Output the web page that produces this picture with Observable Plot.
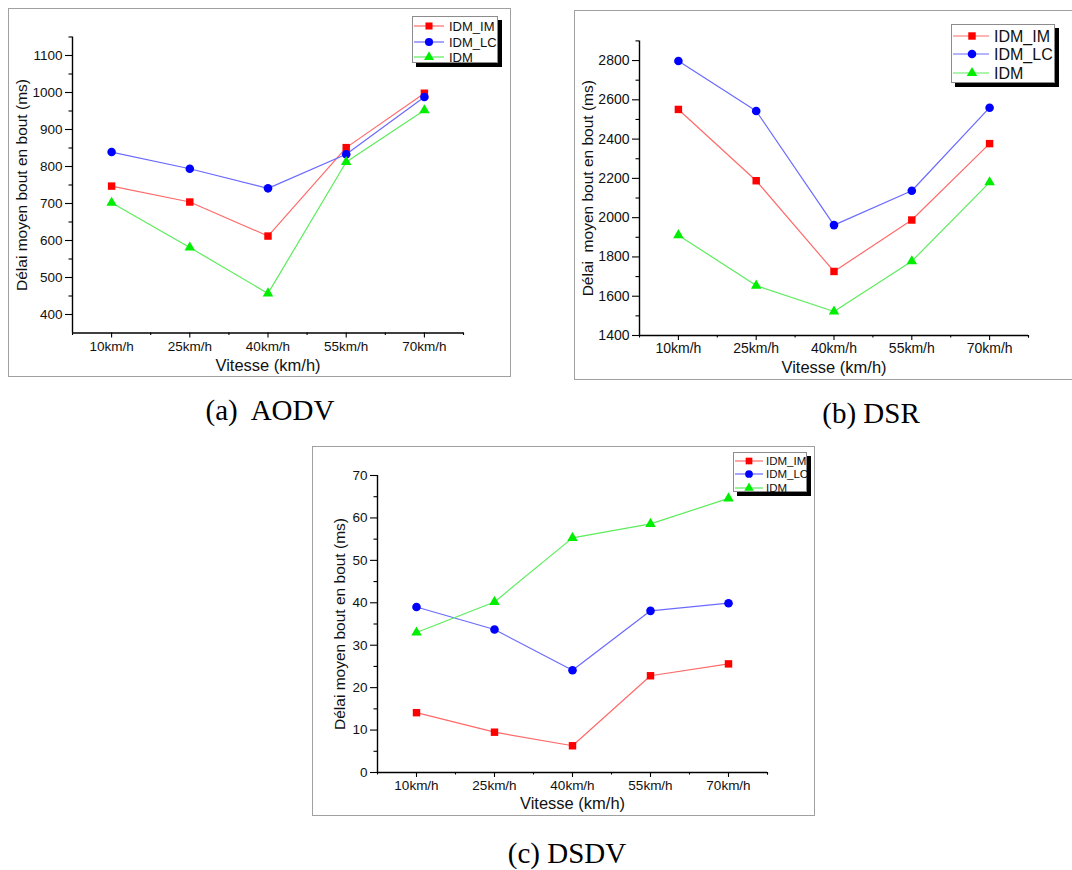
<!DOCTYPE html>
<html><head><meta charset="utf-8">
<script src="https://cdn.jsdelivr.net/npm/d3@7"></script>
<script src="https://cdn.jsdelivr.net/npm/@observablehq/plot@0.6"></script>
<style>
body{margin:0;background:#fff;}
#page{position:relative;width:1072px;height:870px;overflow:hidden;font-family:"Liberation Sans",Arial,sans-serif;background:#fff;}
.frame{position:absolute;border:1.5px solid #a0a0a0;box-sizing:border-box;}
.plot{position:absolute;}
.legend{position:absolute;background:#fff;border:1px solid #8c8c8c;box-shadow:4px 4px 0 #000;box-sizing:border-box;}
.legend svg{position:absolute;left:0;top:0;overflow:visible;}
.caption{position:absolute;font-family:"Liberation Serif","Times New Roman",serif;font-size:29px;transform:translate(-50%,-50%);white-space:pre;color:#000;line-height:1;}
</style></head><body><div id="page"></div>
<script>
// ---- data ----
const categories = ["10km/h", "25km/h", "40km/h", "55km/h", "70km/h"];
const seriesNames = ["IDM_IM", "IDM_LC", "IDM"];
const xTitle = "Vitesse (km/h)";
const yTitleA = "Délai moyen bout en bout (ms)";
const yTitleB = "Délai  moyen bout en bout (ms)";
const yTitleC = "Délai moyen bout en bout (ms)";
const captions = ["(a)  AODV", "(b) DSR", "(c) DSDV"];

// (a) AODV
const aodvIM  = [747, 704, 612, 851, 998];
const aodvLC  = [839, 794, 741, 833, 988];
const aodvIDM = [702, 581, 457, 812, 952];
const aodvTicks = [400, 500, 600, 700, 800, 900, 1000, 1100];
const aodvMinor = [450, 550, 650, 750, 850, 950, 1050, 1150];
// (b) DSR
const dsrIM  = [2551, 2188, 1726, 1988, 2377];
const dsrLC  = [2798, 2543, 1962, 2137, 2560];
const dsrIDM = [1911, 1654, 1522, 1778, 2180];
const dsrTicks = [1400, 1600, 1800, 2000, 2200, 2400, 2600, 2800];
const dsrMinor = [1500, 1700, 1900, 2100, 2300, 2500, 2700, 2900];
// (c) DSDV
const dsdvIM  = [14.1, 9.5, 6.3, 22.8, 25.6];
const dsdvLC  = [39.0, 33.7, 24.1, 38.1, 39.9];
const dsdvIDM = [33.0, 40.2, 55.3, 58.6, 64.6];
const dsdvTicks = [0, 10, 20, 30, 40, 50, 60, 70];
const dsdvMinor = [5, 15, 25, 35, 45, 55, 65];

// ---- styles ----
const lineColors = ["#ff6a6a", "#6a6aff", "#5cec5c"];
const markColors = ["#ff0000", "#0000ff", "#00ee00"];
const plotSymbols = ["square", "circle", "triangle"];
const d3Symbols = [d3.symbolSquare, d3.symbolCircle, d3.symbolTriangle];
const symbolR = [4.2, 4.3, 3.9];

const page = document.getElementById("page");

function rows(values) {
  return categories.map((c, i) => ({i, cat: c, v: values[i]}));
}

function panel(cfg) {
  const fr = document.createElement("div");
  fr.className = "frame";
  Object.assign(fr.style, {left: cfg.left + "px", top: cfg.top + "px", width: cfg.width + "px", height: cfg.height + "px"});
  page.appendChild(fr);

  const seriesMarks = [];
  cfg.series.forEach((vals, k) => {
    seriesMarks.push(Plot.line(rows(vals), {x: "i", y: "v", stroke: lineColors[k], strokeWidth: 1.2}));
  });
  cfg.series.forEach((vals, k) => {
    seriesMarks.push(Plot.dot(rows(vals), {x: "i", y: "v", symbol: plotSymbols[k], fill: markColors[k], stroke: "none", r: symbolR[k] * cfg.ms}));
  });
  const minorX = d3.range(-0.5, categories.length, 1).concat([categories.length - 0.5]);

  const chart = Plot.plot({
    width: cfg.width, height: cfg.height,
    marginLeft: cfg.mL, marginRight: cfg.mR, marginTop: cfg.mT, marginBottom: cfg.mB,
    x: {type: "linear", domain: [-0.5, categories.length - 0.5]},
    y: {type: "linear", domain: cfg.yDomain},
    style: {fontFamily: '"Liberation Sans", Arial, sans-serif', fontSize: "13px", color: "#000", background: "transparent", overflow: "visible"},
    marks: [
      Plot.axisY(cfg.major, {anchor: "left", tickSize: 7, tickPadding: 3, tickFormat: d => String(d), fontSize: cfg.tickFont, fill: "#111", label: null, strokeWidth: 1.1}),
      Plot.axisY(cfg.minor, {anchor: "left", tickSize: 3.5, tickFormat: () => "", label: null, strokeWidth: 1.1}),
      Plot.axisX(d3.range(categories.length), {anchor: "bottom", tickSize: 5, tickPadding: 3, tickFormat: i => categories[i], fontSize: cfg.tickFont, fill: "#111", label: null, strokeWidth: 1.1}),
      Plot.axisX(minorX, {anchor: "bottom", tickSize: 2.5, tickFormat: () => "", label: null, strokeWidth: 1.1}),
      Plot.ruleX([-0.5], {stroke: "#000", strokeWidth: 1.4}),
      Plot.ruleY([cfg.yDomain[0]], {stroke: "#000", strokeWidth: 1.4}),
      ...seriesMarks,
      Plot.text([cfg.yTitle], {frameAnchor: "left", textAnchor: "middle", lineAnchor: "middle", rotate: -90, dx: cfg.yTitleDx, fontSize: 15.5, fill: "#111"}),
      Plot.text([xTitle], {frameAnchor: "bottom", textAnchor: "middle", lineAnchor: "middle", dy: cfg.xTitleDy, fontSize: 16.5, fill: "#111"})
    ]
  });
  chart.classList.add("plot");
  Object.assign(chart.style, {position: "absolute", left: cfg.left + "px", top: cfg.top + "px"});
  chart.querySelectorAll("text").forEach(t => t.style.whiteSpace = "pre");
  page.appendChild(chart);

  legend(cfg.legend);
}

function legend(L) {
  const div = document.createElement("div");
  div.className = "legend";
  Object.assign(div.style, {left: L.left + "px", top: L.top + "px", width: L.w + "px", height: L.h + "px"});
  const svg = d3.select(div).append("svg").attr("width", L.w).attr("height", L.h);
  seriesNames.forEach((name, k) => {
    const y = L.rows[k];
    svg.append("line").attr("x1", L.x0).attr("x2", L.x1).attr("y1", y).attr("y2", y)
      .attr("stroke", lineColors[k]).attr("stroke-width", 1.2);
    svg.append("path").attr("d", d3.symbol(d3Symbols[k], Math.PI * (symbolR[k] * L.s) ** 2)())
      .attr("transform", `translate(${L.xm},${y})`).attr("fill", markColors[k]);
    svg.append("text").attr("x", L.xt).attr("y", y).attr("dy", "0.36em")
      .attr("font-size", L.font).attr("fill", "#111")
      .attr("font-family", '"Liberation Sans", Arial, sans-serif').text(name);
  });
  page.appendChild(div);
}

function caption(text, x, y) {
  const d = document.createElement("div");
  d.className = "caption";
  d.textContent = text;
  Object.assign(d.style, {left: x + "px", top: y + "px"});
  page.appendChild(d);
}

panel({
  left: 8, top: 8, width: 503, height: 369,
  mL: 64, mR: 48, mT: 28.5, mB: 44.5,
  yDomain: [350, 1150], major: aodvTicks, minor: aodvMinor,
  series: [aodvIM, aodvLC, aodvIDM], yTitle: yTitleA, yTitleDx: -50, xTitleDy: 33, tickFont: 13.5, ms: 1,
  legend: {left: 412, top: 16, w: 86, h: 47, rows: [9, 25, 40], x0: 1, x1: 31, xm: 16, xt: 36, font: 13, s: 0.95}
});

panel({
  left: 574, top: 10, width: 506, height: 370,
  mL: 65, mR: 52, mT: 30.4, mB: 45,
  yDomain: [1400, 2900], major: dsrTicks, minor: dsrMinor,
  series: [dsrIM, dsrLC, dsrIDM], yTitle: yTitleB, yTitleDx: -51, xTitleDy: 32, tickFont: 14, ms: 1,
  legend: {left: 951, top: 24, w: 104, h: 59, rows: [11, 29, 48], x0: 1, x1: 37, xm: 20, xt: 42, font: 16, s: 1}
});

panel({
  left: 312, top: 446, width: 503, height: 370,
  mL: 65, mR: 48, mT: 29, mB: 44,
  yDomain: [0, 70], major: dsdvTicks, minor: dsdvMinor,
  series: [dsdvIM, dsdvLC, dsdvIDM], yTitle: yTitleC, yTitleDx: -37, xTitleDy: 31, tickFont: 13.5, ms: 1,
  legend: {left: 733, top: 452, w: 74, h: 40, rows: [8, 21, 35], x0: 1, x1: 29, xm: 15, xt: 32, font: 11.5, s: 0.9}
});

caption(captions[0], 270, 410);
caption(captions[1], 871, 413);
caption(captions[2], 567, 853);
</script>
</body></html>
